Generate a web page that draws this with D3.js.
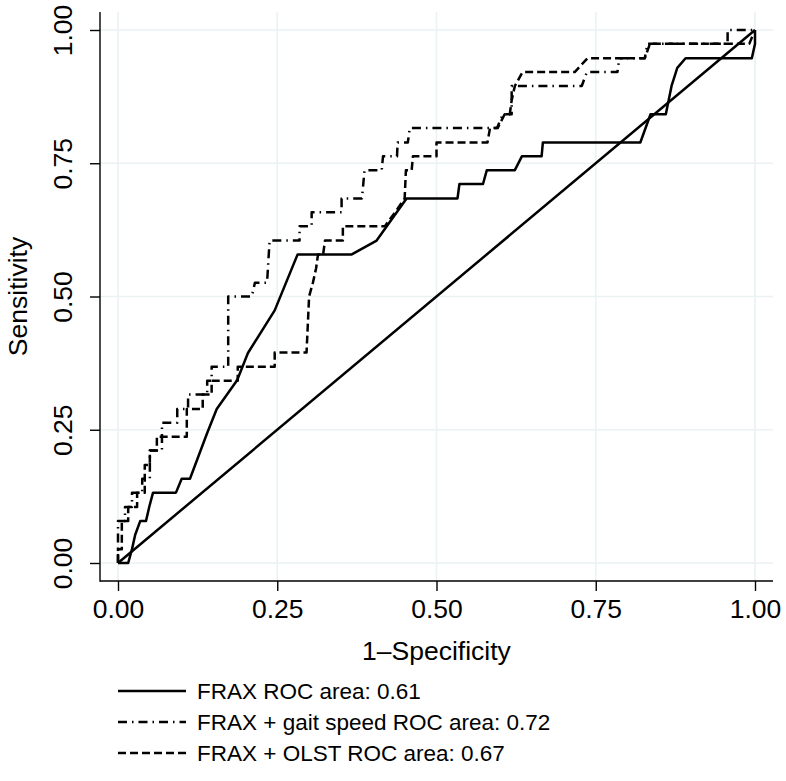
<!DOCTYPE html>
<html>
<head>
<meta charset="utf-8">
<script src="https://cdn.jsdelivr.net/npm/d3@7"></script>
<style>
  body { margin: 0; background: #fff; }
  svg { display: block; }
  text { font-family: "Liberation Sans", Arial, Helvetica, sans-serif; fill: #000; }
</style>
</head>
<body>
<div id="chart"></div>
<script>
// ROC points (1-specificity, sensitivity)
let fraxFpr  = [0, .016, .022, .027, .035, .044, .049, .055, .091, .100, .113, .140, .155, .187, .204, .246, .282, .367, .406, .453, .533, .536, .573, .579, .623, .634, .665, .667, .820, .836, .860, .869, .878, .891, .995, 1, 1]
let fraxSens = [0, 0, .026, .053, .079, .079, .105, .132, .132, .158, .158, .244, .289, .343, .394, .474, .579, .579, .605, .684, .684, .711, .711, .737, .737, .763, .763, .789, .789, .842, .842, .895, .929, .947, .947, .974, 1]

let gaitFpr  = [0, 0, .011, .011, .022, .022, .038, .038, .050, .050, .069, .069, .093, .093, .110, .110, .140, .140, .147, .147, .173, .173, .210, .215, .234, .238, .285, .285, .304, .304, .351, .351, .383, .387, .414, .416, .438, .439, .455, .458, .595, .604, .618, .618, .728, .736, .784, .787, .827, .831, .957, .957, 1]
let gaitSens = [0, .079, .079, .105, .105, .132, .132, .158, .158, .211, .211, .263, .263, .289, .289, .316, .316, .342, .342, .368, .368, .500, .500, .526, .526, .605, .605, .632, .632, .658, .658, .684, .684, .737, .737, .763, .763, .789, .789, .816, .816, .842, .842, .895, .895, .921, .921, .947, .947, .974, .974, 1, 1]

let olstFpr  = [0, 0, .006, .006, .016, .016, .030, .030, .042, .042, .050, .050, .061, .061, .108, .108, .133, .133, .147, .147, .188, .188, .246, .246, .296, .300, .306, .311, .314, .322, .325, .353, .353, .419, .435, .450, .452, .461, .463, .500, .500, .580, .584, .596, .607, .615, .618, .623, .635, .717, .737, .827, .835, .991, 1]
let olstSens = [0, .026, .026, .079, .079, .105, .105, .132, .132, .184, .184, .211, .211, .237, .237, .289, .289, .316, .316, .342, .342, .368, .368, .395, .395, .500, .526, .553, .579, .579, .605, .605, .632, .632, .658, .684, .737, .737, .763, .763, .789, .789, .816, .816, .842, .842, .868, .895, .921, .921, .947, .947, .974, .974, 1]

let ticks = [0, 0.25, 0.5, 0.75, 1]
let legendLabels = ['FRAX ROC area: 0.61', 'FRAX + gait speed ROC area: 0.72', 'FRAX + OLST ROC area: 0.67']

let width = 786
let height = 781
let region = { left: 100, right: 773, top: 12, bottom: 581 }
let fontSize = 26.5
let legendFont = 22.5
let lineW = 2.5

let styles = [
  { dash: null },
  { dash: '9,5,1.5,5' },
  { dash: '8,4' }
]

let svg = d3.select('#chart').append('svg')
  .attr('width', width)
  .attr('height', height)

let x = d3.scaleLinear().domain([0, 1]).range([118, 755])
let y = d3.scaleLinear().domain([0, 1]).range([563, 30])

// grid
let grid = svg.append('g').attr('class', 'grid')
grid.selectAll('.vgrid')
  .data(ticks)
  .enter().append('line')
  .attr('x1', d => x(d)).attr('x2', d => x(d))
  .attr('y1', region.top).attr('y2', region.bottom)
  .style('stroke', '#eaf2f3')
  .style('stroke-width', 1.6)
grid.selectAll('.hgrid')
  .data(ticks)
  .enter().append('line')
  .attr('y1', d => y(d)).attr('y2', d => y(d))
  .attr('x1', region.left).attr('x2', region.right)
  .style('stroke', '#eaf2f3')
  .style('stroke-width', 1.6)

// axes
let xAxis = svg.append('g')
  .attr('transform', 'translate(0,' + region.bottom + ')')
  .call(d3.axisBottom(x).tickValues(ticks).tickFormat(d3.format('.2f')).tickSize(10).tickPadding(8))
xAxis.select('.domain').remove()
xAxis.selectAll('.tick line').style('stroke', '#000').style('stroke-width', 1.4)
xAxis.selectAll('.tick text')
  .style('font-size', fontSize + 'px')
  .style('font-family', '"Liberation Sans", Arial, sans-serif')
  .attr('fill', '#000')

let yAxis = svg.append('g')
  .attr('transform', 'translate(' + region.left + ',0)')
  .call(d3.axisLeft(y).tickValues(ticks).tickFormat(d3.format('.2f')).tickSize(10))
yAxis.select('.domain').remove()
yAxis.selectAll('.tick line').style('stroke', '#000').style('stroke-width', 1.4)
yAxis.selectAll('.tick text')
  .attr('x', null).attr('dy', null)
  .attr('transform', 'translate(-28,0) rotate(-90)')
  .style('text-anchor', 'middle')
  .style('font-size', fontSize + 'px')
  .style('font-family', '"Liberation Sans", Arial, sans-serif')
  .attr('fill', '#000')

svg.append('line')
  .attr('x1', region.left).attr('x2', region.right)
  .attr('y1', region.bottom).attr('y2', region.bottom)
  .style('stroke', '#000').style('stroke-width', 1.4)
svg.append('line')
  .attr('x1', region.left).attr('x2', region.left)
  .attr('y1', region.top).attr('y2', region.bottom + 0.7)
  .style('stroke', '#000').style('stroke-width', 1.4)

// axis titles
svg.append('text')
  .attr('x', x(0.5)).attr('y', 660)
  .style('text-anchor', 'middle')
  .style('font-size', fontSize + 'px')
  .text('1\u2013Specificity')

svg.append('text')
  .attr('transform', 'translate(27,' + y(0.5) + ') rotate(-90)')
  .style('text-anchor', 'middle')
  .style('font-size', fontSize + 'px')
  .text('Sensitivity')

// reference diagonal
let plot = svg.append('g').attr('class', 'curves')
let roc = d3.line().x(d => x(d[0])).y(d => y(d[1]))

plot.append('path')
  .datum([[0, 0], [1, 1]])
  .attr('d', roc)
  .style('fill', 'none')
  .style('stroke', '#000')
  .style('stroke-width', lineW)

let series = [
  d3.zip(fraxFpr, fraxSens),
  d3.zip(gaitFpr, gaitSens),
  d3.zip(olstFpr, olstSens)
]

series.forEach((pts, i) => {
  plot.append('path')
    .datum(pts)
    .attr('d', roc)
    .style('fill', 'none')
    .style('stroke', '#000')
    .style('stroke-width', lineW)
    .style('stroke-linejoin', 'round')
    .style('stroke-dasharray', styles[i].dash)
})

// legend
let legend = svg.append('g').attr('class', 'legend')
let rowY = [691, 722, 753]
legendLabels.forEach((label, i) => {
  legend.append('line')
    .attr('x1', 118).attr('x2', 186)
    .attr('y1', rowY[i]).attr('y2', rowY[i])
    .style('stroke', '#000')
    .style('stroke-width', lineW)
    .style('stroke-dasharray', styles[i].dash)
  legend.append('text')
    .attr('x', 197).attr('y', rowY[i] + 8)
    .style('font-size', legendFont + 'px')
    .text(label)
})
</script>
</body>
</html>
